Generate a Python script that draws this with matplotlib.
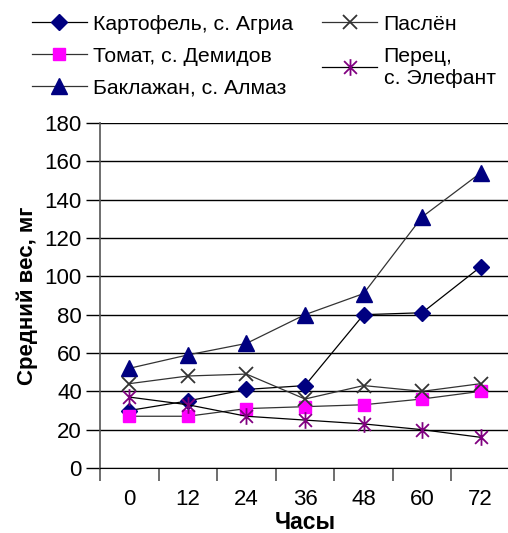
"""
Average weight over time for five plant hosts (Excel-style line chart).
"""

import matplotlib
matplotlib.use("Agg")
import matplotlib.pyplot as plt
from matplotlib.path import Path

plt.rcParams['font.family'] = ['Liberation Sans', 'DejaVu Sans']

hours = ["0", "12", "24", "36", "48", "60", "72"]

potato = [30, 35, 41, 43, 80, 81, 105]
tomato = [27, 27, 31, 32, 33, 36, 40]
eggplant = [52, 59, 65, 80, 91, 131, 154]
nightshade = [44, 48, 49, 36, 43, 40, 44]
pepper = [37, 33, 27, 25, 23, 20, 16]

labels = ["Картофель, с. Агриа", "Томат, с. Демидов", "Баклажан, с. Алмаз",
          "Паслён", "Перец,\nс. Элефант"]

# Excel-like asterisk: an X plus a vertical bar
asterisk = Path([(-1, -1), (1, 1), (-1, 1), (1, -1), (0, -1.3), (0, 1.3)],
                [Path.MOVETO, Path.LINETO, Path.MOVETO, Path.LINETO,
                 Path.MOVETO, Path.LINETO])

fig = plt.figure(figsize=(5.08, 5.33), dpi=100)
ax = fig.add_axes([100 / 508, 65 / 533, 410 / 508, 345 / 533])

x = list(range(len(hours)))

styles = [
    (potato, dict(color="black", marker="D", ms=8, mfc="#000080", mec="#000080")),
    (tomato, dict(color="#333333", marker="s", ms=9, mfc="#FF00FF", mec="#FF00FF")),
    (eggplant, dict(color="#333333", marker="^", ms=11, mfc="#000080", mec="#000080")),
    (nightshade, dict(color="#333333", marker="x", ms=10, mew=1.3, mec="#333333")),
    (pepper, dict(color="black", marker=asterisk, ms=12, mew=1.3, mec="#800080")),
]

for (vals, st), lbl in zip(styles, labels):
    ax.plot(x, vals, lw=0.9, label=lbl, clip_on=False, **st)

ax.set_xlim(-0.5, 6.5)
ax.set_ylim(0, 180)
ax.set_yticks(range(0, 181, 20))
ax.set_xticks(x)
ax.set_xticklabels(hours)
ax.set_xticks([i + 0.5 for i in range(-1, 7)], minor=True)
ax.tick_params(axis="x", which="major", length=0, labelsize=16, pad=15)
ax.tick_params(axis="x", which="minor", length=9, width=1.2, color="#555555",
               direction="out")
ax.tick_params(axis="y", length=10, width=1, direction="out", labelsize=16,
               pad=3, color="black")
ax.grid(axis="y", color="black", lw=1)
ax.set_axisbelow(True)

for side in ("top", "right"):
    ax.spines[side].set_visible(False)
ax.spines["left"].set_color("#555555")
ax.spines["left"].set_linewidth(1.2)
ax.spines["bottom"].set_color("black")

ax.set_ylabel("Средний вес, мг", fontsize=16, fontweight="bold", labelpad=5)
ax.set_xlabel("Часы", fontsize=16.5, fontweight="bold", labelpad=1)

fig.legend(loc="upper left", bbox_to_anchor=(23 / 508, 1 - 6 / 533),
           ncol=2, frameon=False, fontsize=15.3, handlelength=2.6,
           handletextpad=0.3, columnspacing=1.35, labelspacing=0.62,
           borderaxespad=0)

fig.savefig("out.png", dpi=100)
